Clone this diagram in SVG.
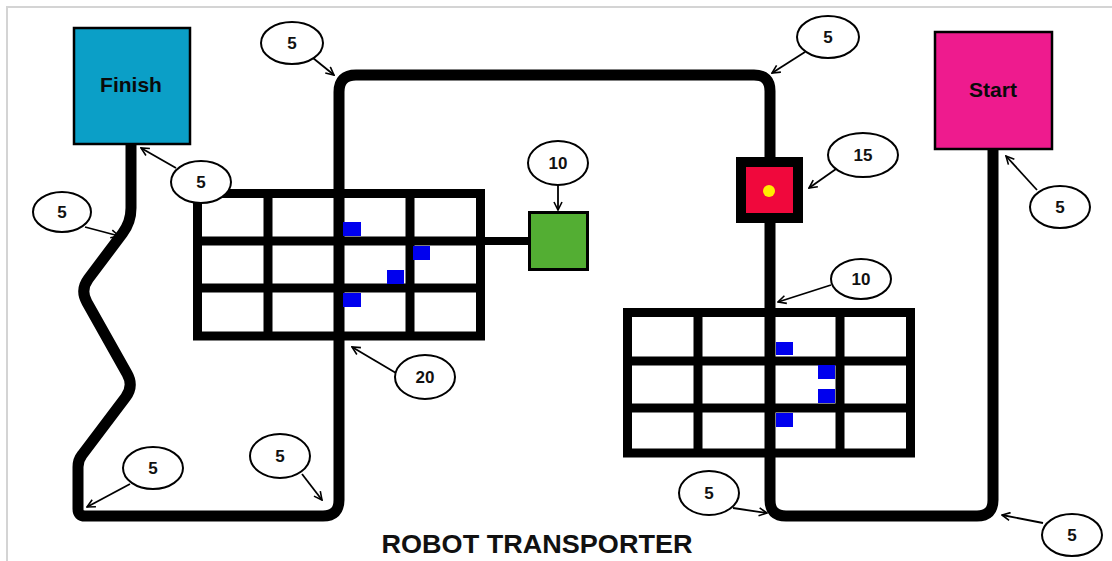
<svg xmlns="http://www.w3.org/2000/svg" width="1112" height="561" viewBox="0 0 1112 561">
  <defs>
    <marker id="arrowhead" viewBox="0 0 10 10" refX="9" refY="5" markerWidth="10" markerHeight="10" markerUnits="userSpaceOnUse" orient="auto">
      <path d="M1,1 L9,5 L1,9" fill="none" stroke="#000" stroke-width="1.6"/>
    </marker>
    <style>
      .track { fill: none; stroke: #000; stroke-width: 11; stroke-linejoin: round; }
      .grid { fill: none; stroke: #000; stroke-width: 9; }
      .block { fill: #0000ee; }
      .bubble { fill: #fff; stroke: #000; stroke-width: 2; }
      .num { font-family: "Liberation Sans", Arial, sans-serif; font-weight: bold; font-size: 17px; fill: #111; text-anchor: middle; }
      .pointer { stroke: #000; stroke-width: 1.8; fill: none; marker-end: url(#arrowhead); }
      .boxlabel { font-family: "Liberation Sans", Arial, sans-serif; font-weight: bold; font-size: 21px; fill: #0a0a0a; text-anchor: middle; }
    </style>
  </defs>

  <rect width="1112" height="561" fill="#fff"/>
  <!-- page frame -->
  <path d="M7,561 V7 H1112" fill="none" stroke="#d4d4d4" stroke-width="2"/>

  <!-- track lines -->
  <g id="connectors">
    <path class="track" d="M131,144 L131,208 Q131,222 122.6,233.2 L88.4,278.8 Q80,290 86.9,302.2 L127.1,373.8 Q134,386 125.6,397.2 L82,455 Q78,460 78,467 L78,509 Q78,516 85,516 L323,516 Q339,516 339,500 L339,92 Q339,75 356,75 L754,75 Q770,75 770,91 L770,157"/>
    <path class="track" d="M770,223 L770,500 Q770,516 786,516 L977,516 Q993,516 993,500 L993,149"/>
    <line x1="480" y1="241" x2="529" y2="241" stroke="#000" stroke-width="8"/>
  </g>

  <!-- left grid -->
  <g id="grid-left">
    <rect class="grid" x="197.5" y="193.5" width="283" height="142.5"/>
    <line class="grid" x1="268" y1="193.5" x2="268" y2="336"/>
    <line class="grid" x1="410" y1="193.5" x2="410" y2="336"/>
    <line class="grid" x1="197.5" y1="241" x2="480.5" y2="241"/>
    <line class="grid" x1="197.5" y1="288" x2="480.5" y2="288"/>
    <rect class="block" x="343" y="222" width="18" height="14"/>
    <rect class="block" x="413" y="246" width="17" height="14"/>
    <rect class="block" x="387" y="270" width="17" height="14"/>
    <rect class="block" x="343" y="293" width="18" height="14"/>
  </g>

  <!-- right grid -->
  <g id="grid-right">
    <rect class="grid" x="627.5" y="312.5" width="283" height="140.5"/>
    <line class="grid" x1="698" y1="312.5" x2="698" y2="453"/>
    <line class="grid" x1="840" y1="312.5" x2="840" y2="453"/>
    <line class="grid" x1="627.5" y1="361" x2="910.5" y2="361"/>
    <line class="grid" x1="627.5" y1="408" x2="910.5" y2="408"/>
    <rect class="block" x="776" y="342" width="17" height="13"/>
    <rect class="block" x="818" y="365" width="17" height="14"/>
    <rect class="block" x="818" y="389" width="17" height="14"/>
    <rect class="block" x="776" y="413" width="17" height="14"/>
  </g>

  <!-- finish / start -->
  <g id="finish">
    <rect x="74" y="28" width="116" height="116" fill="#0b9fc7" stroke="#000" stroke-width="2.5"/>
    <text class="boxlabel" x="131" y="92">Finish</text>
  </g>
  <g id="start">
    <rect x="935" y="32" width="117" height="117" fill="#ee1b8e" stroke="#000" stroke-width="2.5"/>
    <text class="boxlabel" x="993" y="97">Start</text>
  </g>

  <!-- drop zone and checkpoint -->
  <g id="drop-zone">
    <rect x="529.5" y="212.5" width="58" height="57" fill="#53ae33" stroke="#000" stroke-width="3"/>
  </g>
  <g id="checkpoint">
    <rect x="741" y="162" width="57" height="56" fill="#f0083c" stroke="#000" stroke-width="10"/>
    <circle cx="769" cy="191" r="6" fill="#ffee00"/>
  </g>

  <!-- score callouts -->
  <g id="score-1"><ellipse class="bubble" cx="292" cy="43" rx="31" ry="21"/><text class="num" x="292" y="49">5</text><line class="pointer" x1="313" y1="58" x2="334" y2="75"/></g>
  <g id="score-2"><ellipse class="bubble" cx="828" cy="37" rx="31" ry="21"/><text class="num" x="828" y="43">5</text><line class="pointer" x1="805" y1="52" x2="772" y2="73"/></g>
  <g id="score-3"><ellipse class="bubble" cx="201" cy="182" rx="30" ry="21"/><text class="num" x="201" y="188">5</text><line class="pointer" x1="176" y1="168" x2="141" y2="148"/></g>
  <g id="score-4"><ellipse class="bubble" cx="62" cy="212" rx="29" ry="20"/><text class="num" x="62" y="218">5</text><line class="pointer" x1="85" y1="227" x2="119" y2="236"/></g>
  <g id="score-5"><ellipse class="bubble" cx="558" cy="163" rx="30" ry="22"/><text class="num" x="558" y="169">10</text><line class="pointer" x1="558" y1="185" x2="558" y2="210"/></g>
  <g id="score-6"><ellipse class="bubble" cx="863" cy="155" rx="35" ry="22"/><text class="num" x="863" y="161">15</text><line class="pointer" x1="836" y1="169" x2="809" y2="188"/></g>
  <g id="score-7"><ellipse class="bubble" cx="861" cy="279" rx="30" ry="20"/><text class="num" x="861" y="285">10</text><line class="pointer" x1="831" y1="285" x2="778" y2="302"/></g>
  <g id="score-8"><ellipse class="bubble" cx="425" cy="377" rx="30" ry="22"/><text class="num" x="425" y="383">20</text><line class="pointer" x1="396" y1="373" x2="352" y2="347"/></g>
  <g id="score-9"><ellipse class="bubble" cx="1060" cy="207" rx="30" ry="21"/><text class="num" x="1060" y="213">5</text><line class="pointer" x1="1037" y1="190" x2="1006" y2="156"/></g>
  <g id="score-10"><ellipse class="bubble" cx="153" cy="468" rx="30" ry="21"/><text class="num" x="153" y="474">5</text><line class="pointer" x1="130" y1="484" x2="87" y2="507"/></g>
  <g id="score-11"><ellipse class="bubble" cx="280" cy="456" rx="30" ry="22"/><text class="num" x="280" y="462">5</text><line class="pointer" x1="302" y1="474" x2="322" y2="500"/></g>
  <g id="score-12"><ellipse class="bubble" cx="709" cy="493" rx="30" ry="22"/><text class="num" x="709" y="499">5</text><line class="pointer" x1="733" y1="508" x2="767" y2="513"/></g>
  <g id="score-13"><ellipse class="bubble" cx="1072" cy="535" rx="30" ry="21"/><text class="num" x="1072" y="541">5</text><line class="pointer" x1="1043" y1="523" x2="1002" y2="515"/></g>

  <!-- title -->
  <text x="537" y="553" font-family="Liberation Sans, Arial, sans-serif" font-weight="bold" font-size="26" fill="#111" text-anchor="middle" textLength="311" lengthAdjust="spacingAndGlyphs">ROBOT TRANSPORTER</text>
</svg>
